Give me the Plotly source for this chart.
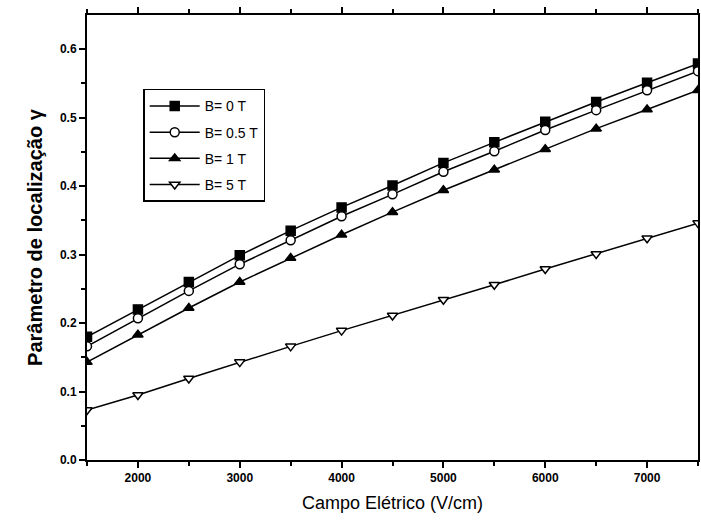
import plotly.graph_objects as go

campo = [1500, 2000, 2500, 3000, 3500, 4000, 4500, 5000, 5500, 6000, 6500, 7000, 7500]
b0 = [0.180, 0.220, 0.260, 0.299, 0.335, 0.369, 0.401, 0.434, 0.464, 0.494, 0.523, 0.551, 0.579]
b05 = [0.166, 0.207, 0.247, 0.286, 0.321, 0.356, 0.388, 0.421, 0.451, 0.482, 0.511, 0.540, 0.568]
b1 = [0.143, 0.183, 0.222, 0.260, 0.295, 0.329, 0.362, 0.394, 0.424, 0.454, 0.484, 0.512, 0.540]
b5 = [0.073, 0.095, 0.119, 0.143, 0.166, 0.189, 0.211, 0.234, 0.256, 0.279, 0.301, 0.324, 0.346]

series = [
    ("B= 0 T", b0, "square", "black"),
    ("B= 0.5 T", b05, "circle", "white"),
    ("B= 1 T", b1, "triangle-up", "black"),
    ("B= 5 T", b5, "triangle-down", "white"),
]

fig = go.Figure()
for i, (name, ys, sym, fill) in enumerate(series):
    fig.add_trace(go.Scatter(
        x=campo, y=ys, name=name, mode="lines+markers", legendgroup=f"g{i}",
        line=dict(color="black", width=1.5),
        marker=dict(symbol=sym, size=9, color=fill, line=dict(color="black", width=1.5)),
    ))

fig.update_layout(
    width=701, height=525,
    margin=dict(l=87, r=1, t=15, b=65),
    paper_bgcolor="white", plot_bgcolor="white",
    font=dict(family="Liberation Sans, Arial, sans-serif", color="black"),
    showlegend=True,
    legend=dict(
        x=0.092, y=0.834, xanchor="left", yanchor="top",
        bordercolor="black", borderwidth=1.5, bgcolor="white",
        font=dict(size=14, family="Liberation Sans, Arial, sans-serif"),
        tracegroupgap=5, itemwidth=50,
    ),
)
fig.update_xaxes(
    range=[1500, 7500], tickvals=[2000, 3000, 4000, 5000, 6000, 7000],
    ticks="outside", ticklen=6, tickwidth=1.5, tickcolor="black",
    minor=dict(tickvals=[1500, 2500, 3500, 4500, 5500, 6500, 7500], ticks="outside", ticklen=4, tickcolor="black"),
    showline=True, linecolor="black", linewidth=2, mirror="ticks",
    showgrid=False, zeroline=False,
    tickfont=dict(size=12, family="Liberation Sans, Arial, sans-serif", weight="bold"),
    title=dict(text="Campo Elétrico (V/cm)", font=dict(size=18), standoff=12),
)
fig.update_yaxes(
    range=[0, 0.65], tickvals=[0, 0.1, 0.2, 0.3, 0.4, 0.5, 0.6], tickformat=".1f",
    ticks="outside", ticklen=6, tickwidth=1.5, tickcolor="black",
    minor=dict(tickvals=[0.05, 0.15, 0.25, 0.35, 0.45, 0.55], ticks="outside", ticklen=4, tickcolor="black"),
    showline=True, linecolor="black", linewidth=2, mirror=True,
    showgrid=False, zeroline=False,
    tickfont=dict(size=12, family="Liberation Sans, Arial, sans-serif", weight="bold"),
    title=dict(text="Parâmetro de localização γ", font=dict(size=20, weight="bold"), standoff=12),
)

fig.write_html("out.html")
